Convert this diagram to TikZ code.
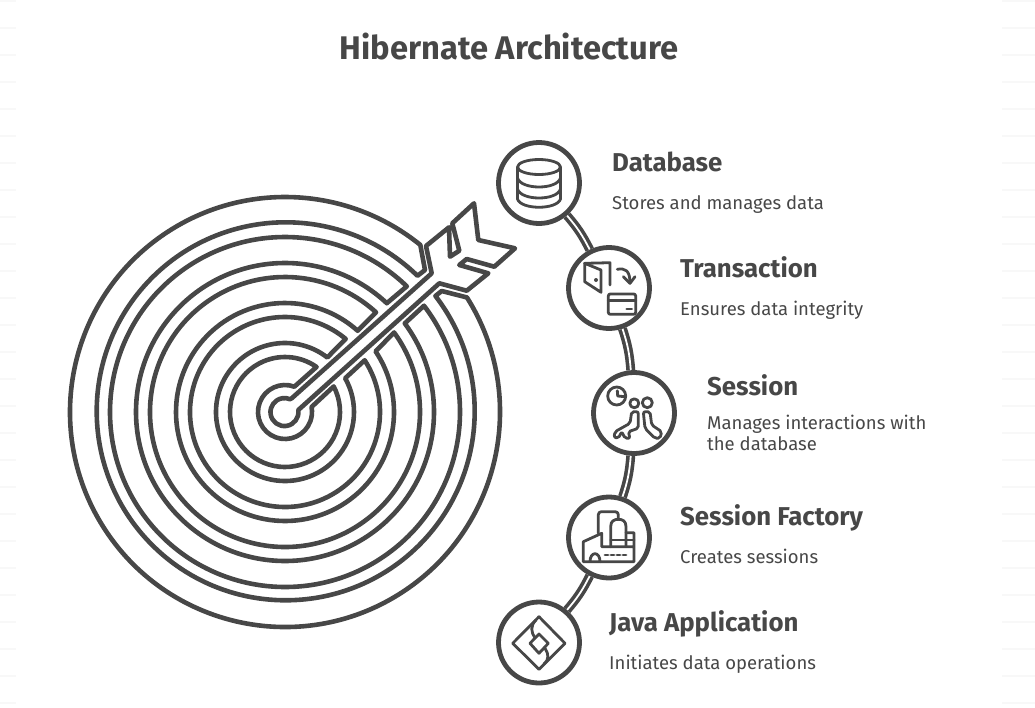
\documentclass[tikz,border=0pt]{standalone}
\usepackage{fontspec}
\setmainfont{Fira Sans}
\usetikzlibrary{positioning, backgrounds}
\definecolor{inkgray}{HTML}{474747}
\definecolor{tickgray}{HTML}{F8F8F8}
\tikzset{
    stepcircle/.style={circle, draw=inkgray, line width=4.8pt, minimum size=81pt, inner sep=0pt},
    ringline/.style={draw=inkgray, line width=4.6pt, line join=round},
    iconline/.style={draw=inkgray, line width=2.8pt, line join=round, line cap=round},
    linkline/.style={draw=inkgray, line width=3.6pt, double=white, double distance=1.8pt},
    titletext/.style={inner sep=0pt, text=inkgray, font=\fontsize{32.7}{38}\selectfont\bfseries},
    headtext/.style={inner sep=0pt, anchor=base west, text=inkgray, font=\fontsize{25.8}{30}\selectfont\bfseries},
    desctext/.style={inner sep=0pt, anchor=base west, align=left, text=inkgray, font=\fontsize{18.5}{21}\selectfont},
}
\begin{document}
\begin{tikzpicture}[x=1pt, y=1pt, yscale=-1]
\useasboundingbox (0,0) rectangle (1035,707);
\foreach \n in {0,...,26} {
    \draw[tickgray, line width=1.5pt] (0,{1+27*\n}) -- (16,{1+27*\n});
    \draw[tickgray, line width=1.5pt] (1002,{1+27*\n}) -- (1035,{1+27*\n});
}

\node[titletext] (title) at (509,47) {Hibernate Architecture};

\node[stepcircle] (database) at (539,183) {};
\node[stepcircle] (transaction) at (609,288) {};
\node[stepcircle] (session) at (634,413) {};
\node[stepcircle] (factory) at (609,537.5) {};
\node[stepcircle] (javaapp) at (539,642.5) {};

\begin{scope}[on background layer]
\draw[linkline] (database) to[bend right=7] (transaction);
\draw[linkline] (transaction) to[bend right=7] (session);
\draw[linkline] (session) to[bend right=7] (factory);
\draw[linkline] (factory) to[bend right=7] (javaapp);
\end{scope}

\node[headtext] (databasehead) at (612,171) {Database};
\node[desctext] (databasedesc) at (612,209) {Stores and manages data};
\node[headtext] (transactionhead) at (680,277) {Transaction};
\node[desctext] (transactiondesc) at (680,315) {Ensures data integrity};
\node[headtext] (sessionhead) at (707,395) {Session};
\node[desctext] (sessiondesc) at (707,450) {Manages interactions with\\the database};
\node[headtext] (factoryhead) at (680,525) {Session Factory};
\node[desctext] (factorydesc) at (680,563) {Creates sessions};
\node[headtext] (javaapphead) at (609,631) {Java Application};
\node[desctext] (javaappdesc) at (609,669) {Initiates data operations};

\begin{scope}[shift={(285,412)}]
\draw[ringline] (-32.2:215) arc[start angle=-32.2, end angle=309, radius=215]
    -- (140,-142) -- (-45.8:190) arc[start angle=314.2, end angle=-37.6, radius=189]
    -- (156.7,-121) -- cycle;
\foreach \ro/\ri/\la/\ua/\lb/\ub in {175/149/-37.4/-45.9/-36.5/-46.9, 135/109/-36.1/-47.6/-33.8/-48.2, 95/69/-33/-50.3/-29.3/-52.2, 55/27/-27.7/-55/-10.7/-69.7} {
    \draw[ringline] (\la:\ro) arc[start angle=\la, end angle=360+\ua, radius=\ro]
        -- (\ub:\ri) arc[start angle=360+\ub, end angle=\lb, radius=\ri] -- cycle;
}
\end{scope}

\draw[ringline] (291.7,398.3) -- (431.7,273.3) -- (426,246) -- (449,227.3) -- (450,256.7) -- (459.3,250.7)
    -- (452.3,223.3) -- (474,203.3) -- (478.3,240) -- (515,248.3) -- (494.3,266.7) -- (466.7,259)
    -- (459.3,265) -- (488.3,273.3) -- (466.7,290.7) -- (439.3,283.3) -- (298.3,410)
    arc[start angle=-8.5, end angle=293, radius=14] -- cycle;

\draw[iconline] (539,167) ellipse[x radius=21.5, y radius=7.5];
\draw[iconline] (517.5,167) -- (517.5,199) .. controls (521,210) and (557,210) .. (560.5,199) -- (560.5,167);
\draw[iconline] (517.5,178) .. controls (521,190) and (557,190) .. (560.5,178);
\draw[iconline] (517.5,189) .. controls (521,201) and (557,201) .. (560.5,189);

\draw[iconline] (584.7,263.3) -- (610,262.7) -- (610,285);
\draw[iconline] (584.7,263.3) -- (584.7,281.7) -- (601,292.3) -- (601,270) -- cycle;
\fill[inkgray] (596,280) circle[radius=2];
\draw[iconline] (617.3,269.3) .. controls (625,268) and (630,270) .. (630,283.3);
\draw[iconline] (623.3,276.7) -- (630,283.3) -- (635,276.7);
\draw[iconline, rounded corners=2pt] (608.3,294) rectangle (635.7,314.3);
\draw[iconline] (608.3,300.7) -- (635.7,300.7);
\draw[iconline] (626.7,309) -- (631.7,309);

\draw[iconline] (616.7,396) circle[radius=9];
\draw[iconline] (617.3,390.7) -- (617.7,396) -- (625,396.7);
\draw[iconline] (634.3,403.3) circle[radius=4.5];
\draw[iconline] (647.3,402.7) circle[radius=5];
\draw[iconline, rounded corners=2pt] (631.7,411.7) -- (638.3,411.7) -- (638.3,428.3) -- (628.3,431.7) -- (630,438.3)
    -- (625,438.3) -- (621.7,431.7) -- (618.3,438.3) -- (614,437.3) -- (615,431.7) -- (630,423.3) -- cycle;
\draw[iconline, rounded corners=2pt] (643.3,411.7) -- (650,411.7) -- (651.7,425) -- (661.7,431.7) -- (660,438.3)
    -- (655,438.3) -- (645,428.3) -- cycle;

\draw[iconline, rounded corners=3pt] (598.3,533.3) -- (598.3,511.7) -- (618.3,511.7) -- (618.3,519.3);
\draw[iconline] (610.7,546.7) -- (610.7,526.7) .. controls (610.7,521) and (614,519.3) .. (618.3,519.3)
    .. controls (622.6,519.3) and (626,521) .. (626,526.7) -- (626,546.7);
\draw[iconline] (626,532.7) -- (634,532.7) -- (634,561.7) -- (583.3,561.7) -- (583.3,541.7) -- (601.7,533.3) -- (601.7,546.7) -- (634,546.7);
\draw[iconline] (610.7,540) -- (634,540);
\draw[iconline] (590,561.7) .. controls (590,551) and (600,551) .. (600,561.7);
\draw[iconline, dashed] (605,555) -- (628.3,555);

\draw[iconline] (539,616.7) -- (565,643.3) -- (539,669.3) -- (512.7,643.3) -- cycle;
\draw[iconline] (539,634) -- (548.3,643.3) -- (539,653.3) -- (530,643.3) -- cycle;
\draw[iconline] (536,620) .. controls (530,626) and (531,632) .. (535,638);
\draw[iconline] (545,648.3) .. controls (549,654) and (549,660) .. (544,664);
\end{tikzpicture}
\end{document}
